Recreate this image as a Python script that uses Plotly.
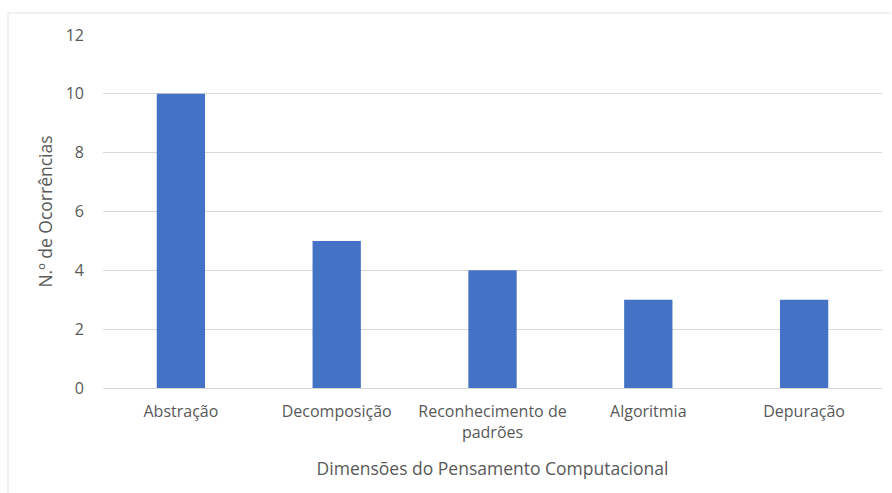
import plotly.graph_objects as go

categories = ["Abstração", "Decomposição", "Reconhecimento de<br>padrões", "Algoritmia", "Depuração"]
values = [10, 5, 4, 3, 3]
y_ticks = [0, 2, 4, 6, 8, 10, 12]

W, H = 892, 493
L, R, T, B = 103, 10, 35, 105
pw = W - L - R
ph = H - T - B

fig = go.Figure(go.Bar(x=categories, y=values, marker=dict(color="#4472C4", line=dict(width=0)), width=0.31))

font_fam = "Open Sans, Noto Sans, sans-serif"
fig.update_layout(
    width=W, height=H,
    margin=dict(l=L, r=R, t=T, b=B),
    paper_bgcolor="white", plot_bgcolor="white",
    showlegend=False,
    font=dict(family=font_fam, color="#595959", size=15),
    xaxis=dict(
        showgrid=False, showline=False, ticks="", zeroline=False,
        ticklabelstandoff=12,
        tickfont=dict(size=16, color="#595959"),
        title=dict(text="Dimensões do Pensamento Computacional", font=dict(size=17.5, color="#595959"), standoff=20),
    ),
    yaxis=dict(
        range=[0, 12], tickvals=y_ticks, showgrid=True, gridcolor="#d9d9d9", gridwidth=1,
        zeroline=True, zerolinecolor="#d9d9d9", zerolinewidth=1, showline=False, ticks="",
        ticklabelstandoff=18,
        tickfont=dict(size=16, color="#595959"),
        title=dict(text="N.º de Ocorrências", font=dict(size=17.5, color="#595959"), standoff=8),
    ),
    shapes=[
        dict(type="line", xref="paper", yref="paper",
             x0=(8 - L) / pw, x1=(8 - L) / pw, y0=(H - B - 493) / ph, y1=(H - B - 13) / ph,
             line=dict(color="#e3e3e3", width=1)),
        dict(type="line", xref="paper", yref="paper",
             x0=(8 - L) / pw, x1=(891 - L) / pw, y0=(H - B - 13) / ph, y1=(H - B - 13) / ph,
             line=dict(color="#e3e3e3", width=1)),
    ],
)

fig.write_html("out.html")
